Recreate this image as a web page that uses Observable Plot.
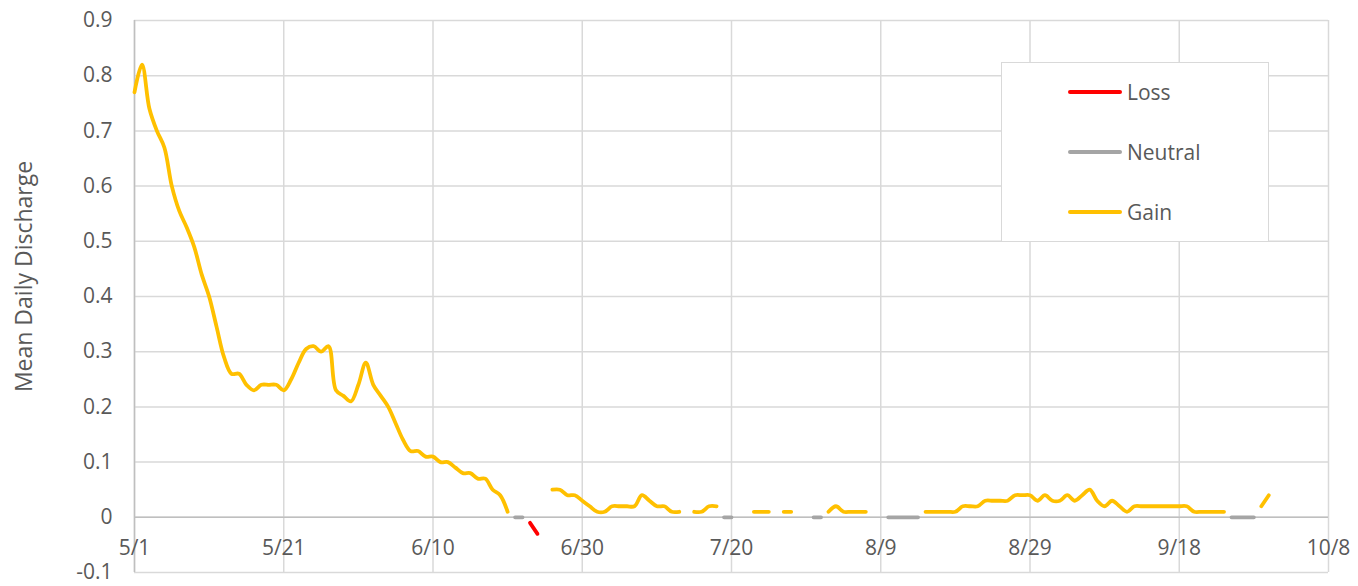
<!DOCTYPE html>
<html><head><meta charset="utf-8">
<script src="https://cdn.jsdelivr.net/npm/d3@7"></script>
<script src="https://cdn.jsdelivr.net/npm/@observablehq/plot@0.6"></script>
<style>
body{margin:0;background:#fff;font-family:"Open Sans",sans-serif;}
#wrap{position:relative;width:1358px;height:586px;overflow:hidden;}
#legend{position:absolute;left:1001px;top:62px;width:268px;height:180px;border:1.5px solid #d9d9d9;background:#fff;box-sizing:border-box;}
.item{position:absolute;left:66px;height:30px;display:flex;align-items:center;color:#595959;font-size:21px;}
.item span.sw{display:inline-block;width:54px;height:4px;border-radius:2px;margin-right:5px;}
</style></head><body>
<div id="wrap"><div id="chart"></div><div id="legend"></div></div>
<script>
const startDay = "2021-05-01";
const endDay = "2021-10-08";
// mean daily discharge, one value per day starting 5/1 (null = no line drawn)
const discharge = [
  0.77,0.82,0.74,0.70,0.67,0.60,0.555,0.525,0.49,0.44,
  0.40,0.345,0.29,0.26,0.26,0.24,0.23,0.24,0.24,0.24,
  0.23,0.25,0.28,0.305,0.31,0.30,0.31,0.23,0.22,0.21,
  0.24,0.28,0.24,0.22,0.20,0.17,0.14,0.12,0.12,0.11,
  0.11,0.10,0.10,0.09,0.08,0.08,0.07,0.07,0.05,0.04,
  0.01,0,0,-0.01,-0.03,null,0.05,0.05,0.04,0.04,
  0.03,0.02,0.01,0.01,0.02,0.02,0.02,0.02,0.04,0.03,
  0.02,0.02,0.01,0.01,null,0.01,0.01,0.02,0.02,0,
  0,null,null,0.01,0.01,0.01,null,0.01,0.01,null,
  null,0,0,0.01,0.02,0.01,0.01,0.01,0.01,null,
  null,0,0,0,0,0,0.01,0.01,0.01,0.01,
  0.01,0.02,0.02,0.02,0.03,0.03,0.03,0.03,0.04,0.04,
  0.04,0.03,0.04,0.03,0.03,0.04,0.03,0.04,0.05,0.03,
  0.02,0.03,0.02,0.01,0.02,0.02,0.02,0.02,0.02,0.02,
  0.02,0.02,0.01,0.01,0.01,0.01,0.01,0,0,0,
  0,0.02,0.04
];
const seriesNames = ["Loss", "Neutral", "Gain"];
const seriesColors = ["#FF0000", "#A5A5A5", "#FFC000"];
const xTickLabels = ["5/1","5/21","6/10","6/30","7/20","8/9","8/29","9/18","10/8"];
const yTicks = [-0.1,0,0.1,0.2,0.3,0.4,0.5,0.6,0.7,0.8,0.9];
const yTitle = "Mean Daily Discharge";

const start = new Date(startDay);
const rows = discharge.map((v, i) => ({
  date: d3.utcDay.offset(start, i),
  value: v,
  cat: v == null ? null : v > 0 ? "Gain" : v < 0 ? "Loss" : "Neutral"
}));
const xTicks = xTickLabels.map((_, i) => d3.utcDay.offset(start, i * 20));
const fmtY = d => String(+d.toFixed(1));

const lineFor = (name, color) => Plot.line(rows, {
  x: "date",
  y: d => d.cat === name ? d.value : NaN,
  stroke: color, strokeWidth: 3.8, curve: "catmull-rom",
  strokeLinecap: "round", strokeLinejoin: "round"
});

const chart = Plot.plot({
  width: 1358, height: 586,
  marginLeft: 134, marginRight: 30, marginTop: 20, marginBottom: 14,
  style: {fontFamily: "'Open Sans', sans-serif", fontSize: "21px", color: "#595959", background: "#fff"},
  x: {type: "utc", domain: [start, new Date(endDay)], axis: null},
  y: {domain: [-0.1, 0.9], axis: null},
  marks: [
    Plot.gridX(xTicks, {stroke: "#d9d9d9", strokeOpacity: 1, strokeWidth: 1.5}),
    Plot.gridY(yTicks, {stroke: "#d9d9d9", strokeOpacity: 1, strokeWidth: 1.5}),
    Plot.ruleY([0], {stroke: "#bfbfbf", strokeWidth: 1.5}),
    Plot.ruleX([start], {stroke: "#bfbfbf", strokeWidth: 1.5}),
    Plot.axisY(yTicks, {tickSize: 0, tickPadding: 22, tickFormat: fmtY, fill: "#595959", fontSize: 21, label: null}),
    Plot.text(xTicks, {x: d => d, y: () => 0, text: (d, i) => xTickLabels[i], dy: 31, fill: "#595959", fontSize: 21}),
    Plot.text([yTitle], {frameAnchor: "left", textAnchor: "middle", rotate: -90, dx: -110, dy: -20, fill: "#595959", fontSize: 23}),
    ...seriesNames.map((n, i) => lineFor(n, seriesColors[i]))
  ]
});
document.getElementById("chart").appendChild(chart);

const legend = document.getElementById("legend");
seriesNames.forEach((n, i) => {
  const it = document.createElement("div");
  it.className = "item";
  it.style.top = (14 + i * 60) + "px";
  it.innerHTML = `<span class="sw" style="background:${seriesColors[i]}"></span>${n}`;
  legend.appendChild(it);
});
</script>
</body></html>
